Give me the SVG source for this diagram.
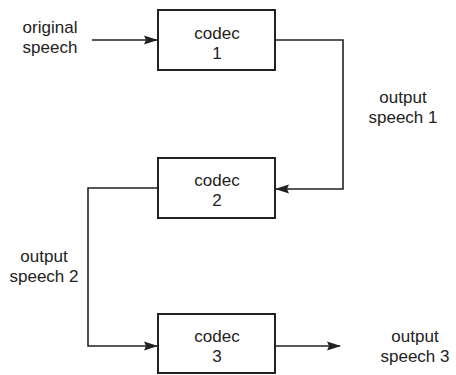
<svg xmlns="http://www.w3.org/2000/svg" width="456" height="375" viewBox="0 0 456 375">
<style>
text{font-family:"Liberation Sans",Arial,sans-serif;font-size:17px;fill:#222;text-anchor:middle}
.box{fill:#fff;stroke:#222;stroke-width:2}
.wire{fill:none;stroke:#222;stroke-width:1.6}
</style>
<defs>
<marker id="ah" markerWidth="14" markerHeight="10" refX="13" refY="5" orient="auto" markerUnits="userSpaceOnUse">
<path d="M0,0.5 L14,5 L0,9.5 L2,5 Z" fill="#222"/>
</marker>
</defs>
<rect width="456" height="375" fill="#fff"/>
<g id="connectors">
<path class="wire" d="M92,40 H157" marker-end="url(#ah)"/>
<path class="wire" d="M275,40 H343 V189 H276" marker-end="url(#ah)"/>
<path class="wire" d="M158,188 H88 V346 H157" marker-end="url(#ah)"/>
<path class="wire" d="M275,346 H340" marker-end="url(#ah)"/>
</g>
<g id="label-original">
<text x="50" y="33">original</text>
<text x="50" y="53">speech</text>
</g>
<g id="codec1">
<rect class="box" x="158" y="10" width="117" height="60"/>
<text x="217" y="39">codec</text>
<text x="217" y="59">1</text>
</g>
<g id="label-out1">
<text x="403" y="103">output</text>
<text x="403" y="123">speech 1</text>
</g>
<g id="codec2">
<rect class="box" x="158" y="158" width="117" height="60"/>
<text x="217" y="186">codec</text>
<text x="217" y="206">2</text>
</g>
<g id="label-out2">
<text x="44" y="262">output</text>
<text x="44" y="282">speech 2</text>
</g>
<g id="codec3">
<rect class="box" x="158" y="314" width="117" height="59"/>
<text x="217" y="342">codec</text>
<text x="217" y="362">3</text>
</g>
<g id="label-out3">
<text x="415" y="342">output</text>
<text x="415" y="362">speech 3</text>
</g>
</svg>
